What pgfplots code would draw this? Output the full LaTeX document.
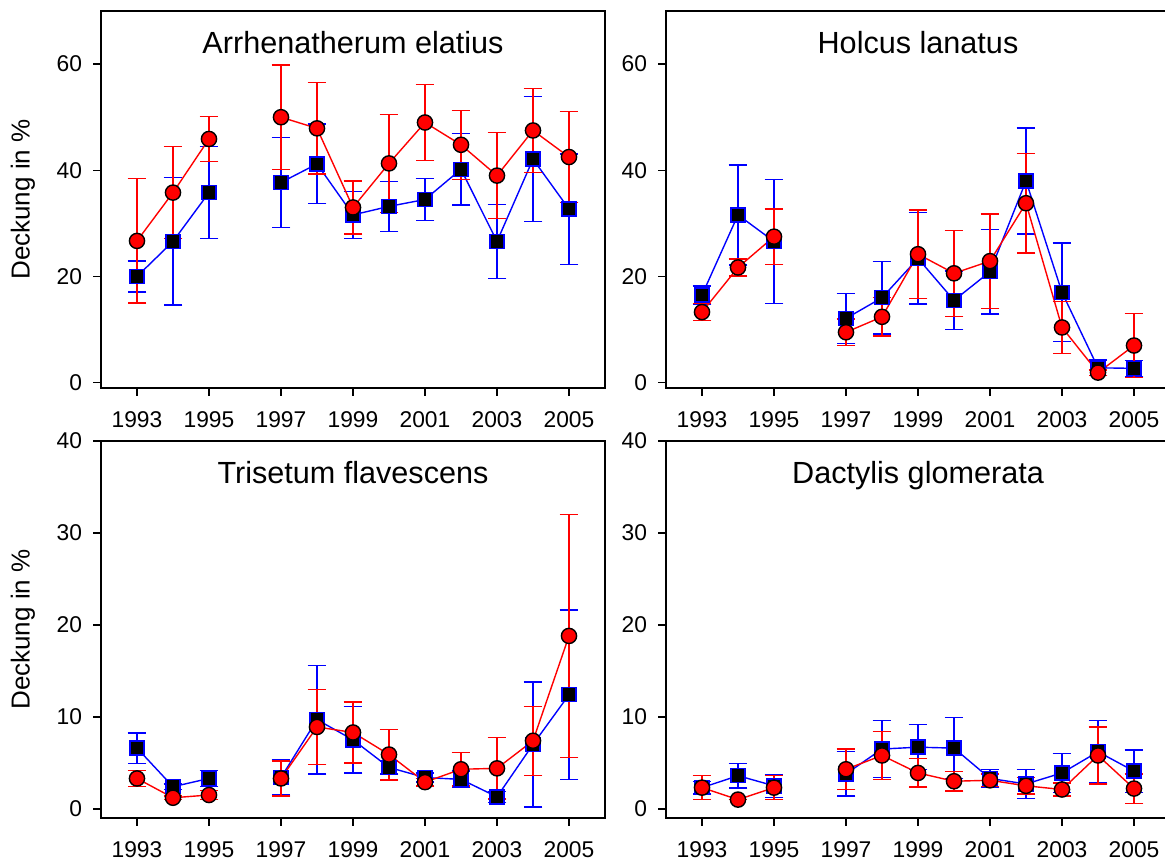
\documentclass[border=0pt]{standalone}
\usepackage{pgfplots}
\pgfplotsset{compat=1.18}
\usepackage{pgfplotstable}
\usepgfplotslibrary{groupplots}
\usepackage{fontspec}
\setmainfont{Liberation Sans}

% columns: year, squares (mean, error), circles (mean, error)
\pgfplotstableread{
yr b be r re
1993 20.0 2.9 26.7 11.7
1994 26.6 12.0 35.8 8.7
1995 35.8 8.7 45.9 4.2
1996 nan nan nan nan
1997 37.7 8.5 50.0 9.8
1998 41.2 7.5 47.9 8.6
1999 31.6 4.4 33.0 5.0
2000 33.2 4.7 41.3 9.2
2001 34.5 3.9 49.0 7.2
2002 40.2 6.7 44.8 6.5
2003 26.6 7.0 39.0 8.1
2004 42.1 11.8 47.5 7.9
2005 32.7 10.4 42.5 8.6
}\arrh
\pgfplotstableread{
yr b be r re
1993 16.5 1.7 13.3 1.6
1994 31.6 9.4 21.7 1.6
1995 26.6 11.7 27.5 5.2
1996 nan nan nan nan
1997 12.1 4.7 9.5 2.5
1998 16.0 6.8 12.4 3.6
1999 23.4 8.6 24.2 8.3
2000 15.5 5.5 20.6 8.1
2001 20.9 8.0 22.9 8.9
2002 38.0 10.0 33.8 9.4
2003 17.0 9.3 10.4 4.9
2004 2.8 1.5 1.9 0.5
2005 2.7 1.5 7.0 6.0
}\holc
\pgfplotstableread{
yr b be r re
1993 6.6 1.65 3.3 0.85
1994 2.4 0.3 1.2 0.2
1995 3.3 0.85 1.5 0.5
1996 nan nan nan nan
1997 3.4 1.9 3.3 1.9
1998 9.7 5.9 8.9 4.1
1999 7.5 3.6 8.3 3.3
2000 4.5 0.7 5.9 2.75
2001 3.4 0.5 2.9 0.4
2002 3.2 0.9 4.3 1.8
2003 1.3 0.6 4.4 3.35
2004 7.0 6.8 7.4 3.75
2005 12.4 9.2 18.8 13.2
}\tris
\pgfplotstableread{
yr b be r re
1993 2.3 0.7 2.3 1.3
1994 3.6 1.35 1.0 0.0
1995 2.5 1.25 2.3 1.3
1996 nan nan nan nan
1997 3.8 2.4 4.3 2.2
1998 6.5 3.1 5.8 2.6
1999 6.7 2.45 3.9 1.55
2000 6.6 3.3 3.0 1.05
2001 3.3 1.0 3.1 0.7
2002 2.7 1.6 2.5 0.9
2003 3.9 2.1 2.1 0.7
2004 6.2 3.4 5.8 3.1
2005 4.1 2.3 2.2 1.6
}\dact

\pgfplotsset{
  sq/.style={blue, line width=0.7pt, mark=square*, mark size=3.5pt,
    mark options={fill=black, draw=blue, line width=0.7pt},
    error bars/.cd, y dir=both, y explicit,
    error bar style={blue, line width=0.7pt},
    error mark options={blue, mark size=4.7pt, line width=0.7pt, rotate=90}},
  ci/.style={red, line width=0.7pt, mark=*, mark size=3.8pt,
    mark options={fill=red, draw=black, line width=0.7pt},
    error bars/.cd, y dir=both, y explicit,
    error bar style={red, line width=0.7pt},
    error mark options={red, mark size=4.7pt, line width=0.7pt, rotate=90}},
}

\begin{document}
\begin{tikzpicture}
\begin{groupplot}[
  group style={group size=2 by 2, horizontal sep=30.5pt, vertical sep=26.5pt, group name=G},
  width=252pt, height=188.5pt, scale only axis,
  xmin=1992, xmax=2006,
  xtick={1993,1995,...,2005},
  xticklabel style={/pgf/number format/set thousands separator={}},
  /pgf/number format/assume math mode=true,
  tick label style={font=\fontsize{11.4}{13}\selectfont},
  tick align=outside, tick pos=left,
  major tick length=4pt,
  tick style={black, line width=0.7pt},
  axis line style={line width=0.7pt},
  xticklabel style={yshift=-4.5pt},
  yticklabel style={xshift=-2pt},
  title style={at={(0.5,1)}, anchor=base, yshift=-27.5pt, font=\fontsize{15.3}{18}\selectfont},
  ylabel style={font=\fontsize{13}{15}\selectfont, at={(axis description cs:0,0.5)}, anchor=center, yshift=39pt},
  unbounded coords=jump,
]
\nextgroupplot[title={Arrhenatherum elatius}, ymin=-1, ymax=70, ytick={0,20,40,60}, ylabel={Deckung in \%}]
\addplot+[sq] table[x=yr, y=b, y error=be] {\arrh};
\addplot+[ci] table[x=yr, y=r, y error=re] {\arrh};
\nextgroupplot[title={Holcus lanatus}, ymin=-1, ymax=70, ytick={0,20,40,60}]
\addplot+[sq] table[x=yr, y=b, y error=be] {\holc};
\addplot+[ci] table[x=yr, y=r, y error=re] {\holc};
\nextgroupplot[title={Trisetum flavescens}, ymin=-1, ymax=40, ytick={0,10,...,40}, ylabel={Deckung in \%}]
\addplot+[sq] table[x=yr, y=b, y error=be] {\tris};
\addplot+[ci] table[x=yr, y=r, y error=re] {\tris};
\nextgroupplot[title={Dactylis glomerata}, ymin=-1, ymax=40, ytick={0,10,...,40}]
\addplot+[sq] table[x=yr, y=b, y error=be] {\dact};
\addplot+[ci] table[x=yr, y=r, y error=re] {\dact};
\end{groupplot}
\pgfresetboundingbox
\path[use as bounding box] ([shift={(-50.5pt,5.5pt)}]G c1r1.north west) rectangle ([shift={(532pt,-425.5pt)}]G c1r1.north west);
\end{tikzpicture}
\end{document}
